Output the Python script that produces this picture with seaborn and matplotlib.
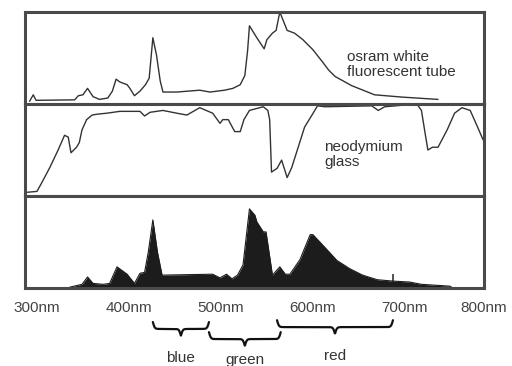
import numpy as np
import pandas as pd
import matplotlib
matplotlib.use('Agg')
import matplotlib.pyplot as plt
import matplotlib.transforms as mtransforms
import seaborn as sns

# osram white fluorescent tube (relative intensity, 0-100)
fluor_nm = [292, 296, 299, 341, 345, 350, 355, 361, 368, 377, 382, 386, 390, 398, 401,
            406, 412, 418, 422, 426, 430, 434, 437, 452, 477, 488, 504, 513, 521, 526,
            529, 531, 539, 547, 550, 556, 560, 564, 572, 580, 589, 600, 611, 617, 624,
            642, 667, 697, 736]
fluor_val = [3, 10, 4, 4.5, 9, 10, 17, 8, 5, 6.5, 14, 27, 24, 21, 17,
             9, 14, 21, 28, 72, 53, 25, 13, 13, 15, 13, 15, 17, 21, 31,
             58, 85, 72, 60, 70, 77, 80, 100, 80, 77, 70, 59, 45, 37, 30,
             20, 10, 7.5, 5]

# neodymium glass transmission (0-100)
neo_nm = [289, 300, 305, 314, 323, 330, 334, 337, 343, 346, 349, 354, 360, 366, 376,
          390, 412, 417, 423, 437, 452, 463, 477, 491, 499, 502, 508, 515, 521, 525,
          531, 546, 551, 553, 555, 561, 566, 572, 577, 584, 591, 599, 605, 613, 664,
          671, 678, 713, 718, 722, 725, 730, 736, 746, 754, 762, 771, 779, 785]
neo_val = [4, 5, 14, 31, 50, 66, 64, 47, 53, 58, 72, 83, 88, 89, 90,
           92, 92, 87, 91, 93, 90, 88, 96, 90, 79, 83, 83, 70, 70, 83,
           93, 97, 93, 83, 26, 30, 39, 20, 31, 53, 75, 88, 98, 97, 98,
           93, 97, 100, 93, 68, 50, 53, 53, 72, 90, 96, 93, 75, 61]

# fluorescent tube seen through neodymium glass (0-100)
filt_nm = [334, 336, 349, 355, 361, 372, 379, 387, 398, 406, 412, 417, 421, 426, 431,
           436, 491, 499, 506, 512, 518, 524, 531, 537, 539, 546, 549, 556, 564, 570,
           575, 586, 597, 600, 615, 626, 640, 654, 670, 687, 705, 718, 749, 752]
filt_val = [0, 1, 4, 12, 5, 4, 5, 23, 15, 5, 16, 17, 39, 74, 39,
            14, 15, 11, 15, 10, 14, 25, 86, 79, 72, 61, 61, 14, 23, 15,
            15, 31, 58, 58, 42, 30, 21, 14, 9, 7.5, 6.5, 4, 2, 0]

tick_pos = [300, 400, 500, 600, 700, 786]
tick_labels = ['300nm', '400nm', '500nm', '600nm', '700nm', '800nm']

# colour bands under the axis: name, start nm, end nm
band_names = ['blue', 'green', 'red']
band_start = [426, 487, 561]
band_end = [487, 565, 687]

sns.set_theme(style='white')
plt.rcParams['font.family'] = ['Liberation Sans', 'DejaVu Sans']

fig = plt.figure(figsize=(5.12, 3.66), dpi=100)
xlim = (287, 786)
left, width, h = 25 / 512, 459 / 512, 92 / 366
ax1 = fig.add_axes([left, 1 - 104 / 366, width, h])
ax2 = fig.add_axes([left, 1 - 196 / 366, width, h])
ax3 = fig.add_axes([left, 1 - 288 / 366, width, h])

df1 = pd.DataFrame({'nm': fluor_nm, 'val': fluor_val})
df2 = pd.DataFrame({'nm': neo_nm, 'val': neo_val})
df3 = pd.DataFrame({'nm': filt_nm, 'val': filt_val})

sns.lineplot(data=df1, x='nm', y='val', ax=ax1, color='#333333', lw=1.0, estimator=None)
sns.lineplot(data=df2, x='nm', y='val', ax=ax2, color='#333333', lw=1.0, estimator=None)
ax3.fill_between(df3['nm'], df3['val'], color='#1c1c1c', lw=0)
sns.lineplot(data=df3, x='nm', y='val', ax=ax3, color='#1c1c1c', lw=0.8, estimator=None)

for ax in (ax1, ax2, ax3):
    ax.set_xlim(*xlim)
    ax.set_ylim(0, 100)
    ax.set_xlabel('')
    ax.set_ylabel('')
    ax.set_yticks([])
    ax.set_xticks([])
    for sp in ax.spines.values():
        sp.set_visible(True)
        sp.set_color('#4a4a4a')
        sp.set_linewidth(2.2)

ax1.text(637, 43, 'osram white\nfluorescent tube', fontsize=11, color='#333333',
         ha='left', va='center', linespacing=1.15)
ax2.text(612, 45, 'neodymium\nglass', fontsize=11, color='#333333',
         ha='left', va='center', linespacing=1.15)

ax3.set_xticks(tick_pos)
ax3.set_xticklabels(tick_labels, fontsize=11, color='#444444')
ax3.tick_params(axis='x', which='major', length=0, pad=9)
ax3.set_xticks([687], minor=True)
ax3.tick_params(axis='x', which='minor', direction='in', length=10, width=1.2,
                color='#333333', bottom=True)


def brace(ax, x0, x1, y, hgt, beta=1.0):
    trans = mtransforms.blended_transform_factory(ax.transData, ax.transAxes)
    xs = np.linspace(x0, x1, 300)
    half = (x1 - x0) / 2
    t = xs - x0
    t = np.where(t <= half, t, (x1 - x0) - t)
    ys = 1 / (1 + np.exp(-beta * t)) + 1 / (1 + np.exp(-beta * (t - half)))
    ys = y - (ys - 0.5) * hgt
    ax.plot(xs, ys, color='#111111', lw=1.6, transform=trans, clip_on=False)


brace_y = [-0.37, -0.48, -0.35]
label_y = [-0.76, -0.78, -0.74]
trans3 = mtransforms.blended_transform_factory(ax3.transData, ax3.transAxes)
for name, x0, x1, by, ly in zip(band_names, band_start, band_end, brace_y, label_y):
    brace(ax3, x0, x1, by, 0.15)
    ax3.text((x0 + x1) / 2, ly, name, transform=trans3, fontsize=11, color='#333333',
             ha='center', va='center', clip_on=False)

fig.savefig('out.png', dpi=100)
